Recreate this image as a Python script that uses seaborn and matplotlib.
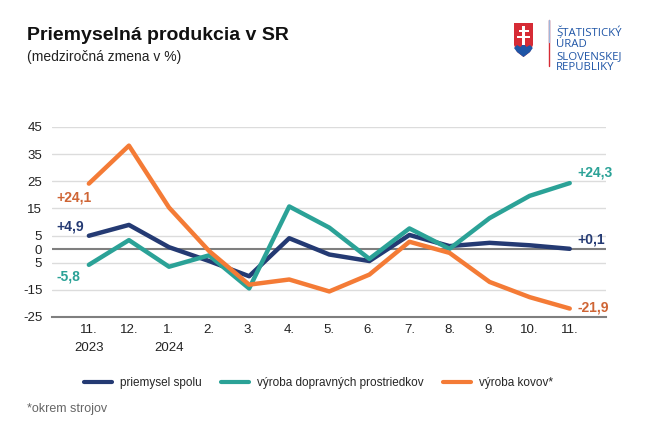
import numpy as np
import pandas as pd
import matplotlib
matplotlib.use('Agg')
import matplotlib.pyplot as plt
from matplotlib.patches import Polygon, Rectangle
from matplotlib.lines import Line2D
import seaborn as sns

# data
months = ['11.', '12.', '1.', '2.', '3.', '4.', '5.', '6.', '7.', '8.', '9.', '10.', '11.']
years = {0: '2023', 2: '2024'}
priemysel = [4.9, 8.9, 0.7, -4.4, -10.0, 4.0, -2.0, -4.4, 5.2, 1.1, 2.3, 1.4, 0.1]
doprava = [-5.8, 3.3, -6.5, -2.3, -14.5, 15.7, 7.9, -3.6, 7.6, 0.1, 11.4, 19.6, 24.3]
kovy = [24.1, 38.1, 15.3, -0.7, -13.1, -11.2, -15.6, -9.4, 2.7, -1.4, -12.1, -17.7, -21.9]
series = ['priemysel spolu', 'výroba dopravných prostriedkov', 'výroba kovov*']
colors = ['#243a73', '#2ba297', '#f47b36']
label_colors = ['#243a73', '#2ba297', '#cf6535']
yticks = [45, 35, 25, 15, 5, 0, -5, -15, -25]
ytick_labels = ['45', '35', '25', '15', '5', '0', '5', '-15', '-25']

df = pd.DataFrame({
    'x': list(range(len(months))) * 3,
    'value': priemysel + doprava + kovy,
    'series': [s for s in series for _ in months],
})

sns.set_style('white')
plt.rcParams['font.family'] = ['Liberation Sans', 'DejaVu Sans']

fig = plt.figure(figsize=(6.5, 4.36), dpi=100)
ax = fig.add_axes([0.08, 0.273, 0.852, 0.436])

for v in [45, 35, 25, 15, 5, -5, -15]:
    ax.axhline(v, color='#dcdcdc', lw=1, zorder=0)
ax.axhline(0, color='#7f7f7f', lw=1.5, zorder=1)

sns.lineplot(data=df, x='x', y='value', hue='series', hue_order=series,
             palette=colors, lw=3.2, ax=ax, legend=False, zorder=3)

ax.set_xlim(-0.92, 12.9)
ax.set_ylim(-25, 45)
ax.set_yticks(yticks)
ax.set_yticklabels(ytick_labels, fontsize=9.5, color='#222222')
ax.set_xticks(range(len(months)))
ax.set_xticklabels(months, fontsize=9.5, color='#222222')
ax.tick_params(axis='x', length=3, width=1, color='#7f7f7f', pad=2, direction='out')
ax.tick_params(axis='y', length=0, pad=7)
ax.set_xlabel('')
ax.set_ylabel('')
for s in ['top', 'right', 'left']:
    ax.spines[s].set_visible(False)
ax.spines['bottom'].set_color('#7f7f7f')
ax.spines['bottom'].set_linewidth(1.5)

for i, yr in years.items():
    ax.text(i, -36.3, yr, ha='center', va='center', fontsize=9.5, color='#222222')

# start / end labels
ax.text(-0.8, priemysel[0] + 3.4, '+4,9', color=label_colors[0], fontsize=10, fontweight='bold', ha='left', va='center')
ax.text(-0.8, doprava[0] - 4.3, '-5,8', color=label_colors[1], fontsize=10, fontweight='bold', ha='left', va='center')
ax.text(-0.8, kovy[0] - 5, '+24,1', color=label_colors[2], fontsize=10, fontweight='bold', ha='left', va='center')
ax.text(12.2, priemysel[-1] + 3.4, '+0,1', color=label_colors[0], fontsize=10, fontweight='bold', ha='left', va='center')
ax.text(12.2, doprava[-1] + 3.9, '+24,3', color=label_colors[1], fontsize=10, fontweight='bold', ha='left', va='center')
ax.text(12.2, kovy[-1] + 0.5, '-21,9', color=label_colors[2], fontsize=10, fontweight='bold', ha='left', va='center')

handles = [Line2D([0], [0], color=c, lw=3) for c in colors]
fig.legend(handles, series, loc='center', bbox_to_anchor=(0.49, 0.121), ncol=3,
           frameon=False, fontsize=8.5, handlelength=2.4, columnspacing=1.6, handletextpad=0.7)

fig.text(0.042, 0.918, 'Priemyselná produkcia v SR', fontsize=14, fontweight='bold', color='#111111', va='center')
fig.text(0.042, 0.869, '(medziročná zmena v %)', fontsize=10, color='#222222', va='center')
fig.text(0.042, 0.063, '*okrem strojov', fontsize=9, color='#666666', va='center')

# logo
W, H = 650.0, 436.0
def fx(p):
    return p / W
def fy(p):
    return 1 - p / H

shield = [(514, 23), (533, 23), (533, 45), (530, 52), (523.5, 57), (517, 52), (514, 45)]
fig.patches.append(Polygon([(fx(a), fy(b)) for a, b in shield], closed=True,
                           transform=fig.transFigure, facecolor='#d62b35', edgecolor='none'))
hills = [(514, 48), (517, 45), (520.5, 47), (523.5, 43.5), (526.5, 47), (530, 45), (532.8, 48),
         (530, 52), (523.5, 57), (517, 52)]
fig.patches.append(Polygon([(fx(a), fy(b)) for a, b in hills], closed=True,
                           transform=fig.transFigure, facecolor='#1f55a6', edgecolor='none'))
for (x0, y0, w, h) in [(522.3, 26, 2.4, 19), (518.5, 30, 10, 2.2), (517, 35.5, 13, 2.4)]:
    fig.patches.append(Rectangle((fx(x0), fy(y0 + h)), w / W, h / H, transform=fig.transFigure,
                                 facecolor='white', edgecolor='none'))
fig.add_artist(Line2D([fx(549), fx(549)], [fy(20), fy(66)], transform=fig.transFigure,
                      color='#d62b35', lw=1))
fig.add_artist(Line2D([fx(549), fx(549)], [fy(20), fy(42)], transform=fig.transFigure,
                      color='#9fb6dc', lw=1))
for k, t in enumerate(['ŠTATISTICKÝ', 'ÚRAD', 'SLOVENSKEJ', 'REPUBLIKY']):
    fig.text(fx(556), fy(33 + k * 11.6), t, fontsize=8.2, color='#1f55a6', va='center',
             family=['Open Sans', 'DejaVu Sans'])

fig.savefig('out.png', dpi=100)
